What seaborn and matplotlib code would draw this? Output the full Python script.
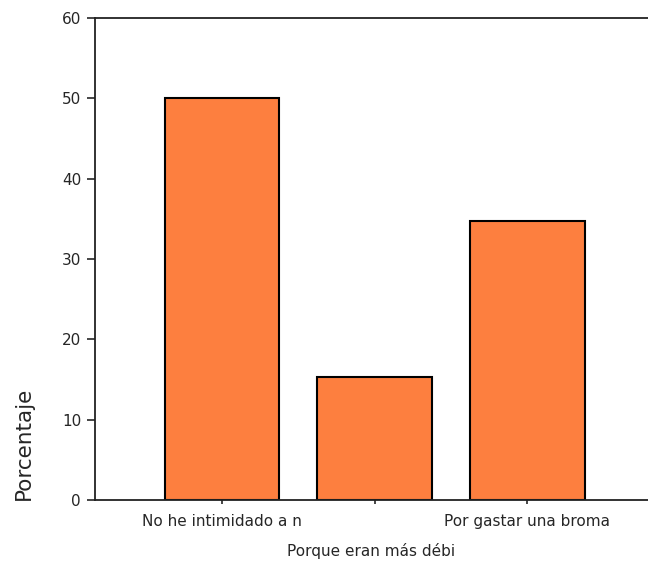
import seaborn as sns
import matplotlib.pyplot as plt

categories = ["No he intimidado a n", "", "Por gastar una broma"]
porcentaje = [50.0, 15.3, 34.7]
y_ticks = [0, 10, 20, 30, 40, 50, 60]

sns.set_style("white")
plt.rcParams['font.family'] = ['DejaVu Sans']

fig = plt.figure(figsize=(6.48, 5.65), dpi=100)
ax = fig.add_axes([95 / 648, 65 / 565, 1 - 95 / 648, (500 - 18) / 565])

sns.barplot(x=categories, y=porcentaje, order=categories, color="#FD7F3F",
            saturation=1, edgecolor="black", linewidth=1.5, width=0.75, ax=ax)

ax.set_ylim(0, 60)
ax.set_xlim(-0.83, 2.79)
ax.set_yticks(y_ticks)
ax.set_yticklabels([str(t) for t in y_ticks], fontsize=11)
ax.set_xticks(range(len(categories)))
ax.set_xticklabels(categories, fontsize=11)
ax.set_ylabel("Porcentaje", fontsize=15.5, loc="bottom", labelpad=20)
ax.set_xlabel("Porque eran más débi", fontsize=11, labelpad=10)

for side in ["left", "top", "bottom"]:
    ax.spines[side].set_color("#222222")
    ax.spines[side].set_linewidth(1.3)
ax.spines["right"].set_visible(False)
ax.tick_params(axis="y", direction="out", length=6, width=1.2, left=True, pad=4)
ax.tick_params(axis="x", direction="out", length=3, width=1.2, bottom=True, pad=7)

fig.savefig("out.png", dpi=100)
